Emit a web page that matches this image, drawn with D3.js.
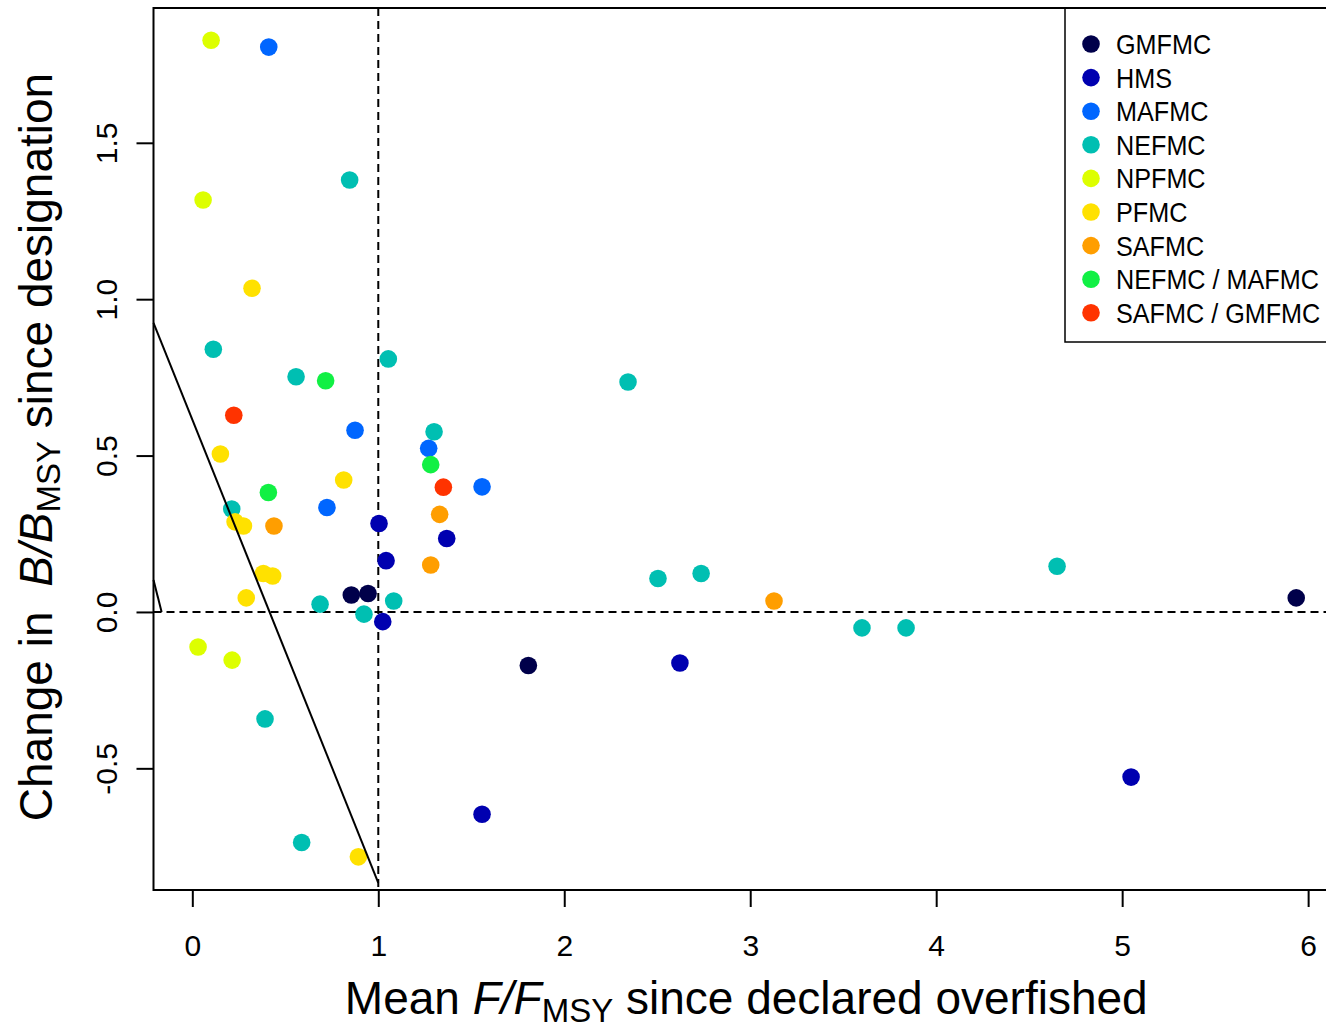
<!DOCTYPE html>
<html>
<head>
<meta charset="utf-8">
<script src="https://cdn.jsdelivr.net/npm/d3@7"></script>
<style>
  body { margin: 0; background: #fff; }
  svg { display: block; font-family: "Liberation Sans", Arial, sans-serif; }
</style>
</head>
<body>
<div id="chart-area"></div>
<script>
// councils, legend order
const councils = ["GMFMC", "HMS", "MAFMC", "NEFMC", "NPFMC", "PFMC", "SAFMC", "NEFMC / MAFMC", "SAFMC / GMFMC"]
const councilColors = ["#00004a", "#0000b0", "#0066ff", "#00bfb2", "#ddff00", "#ffe100", "#ff9e00", "#11f044", "#ff3300"]

// mean F/Fmsy (x) and change in B/Bmsy (y), per council
const fGMFMC = [0.855, 0.945, 1.807, 5.936]
const bGMFMC = [0.054, 0.059, -0.171, 0.045]
const fHMS = [1.004, 1.042, 1.368, 1.024, 1.558, 2.622, 5.048]
const bHMS = [0.283, 0.164, 0.235, -0.031, -0.647, -0.163, -0.528]
const fMAFMC = [0.411, 0.875, 0.724, 1.271, 1.558]
const bMAFMC = [1.806, 0.581, 0.334, 0.523, 0.400]
const fNEFMC = [0.846, 0.113, 0.558, 1.054, 1.300, 0.212, 0.687, 0.923, 1.083, 0.391, 0.588, 2.343, 2.504, 2.736, 3.601, 3.838, 4.650]
const bNEFMC = [1.381, 0.840, 0.752, 0.809, 0.576, 0.329, 0.025, -0.007, 0.035, -0.342, -0.737, 0.735, 0.107, 0.123, -0.051, -0.051, 0.146]
const fNPFMC = [0.101, 0.058, 0.031, 0.214]
const bNPFMC = [1.828, 1.317, -0.112, -0.154]
const fPFMC = [0.321, 0.151, 0.230, 0.275, 0.382, 0.432, 0.814, 0.290, 0.893]
const bPFMC = [1.035, 0.505, 0.288, 0.275, 0.123, 0.115, 0.422, 0.045, -0.783]
const fSAFMC = [0.439, 1.330, 1.282, 3.128]
const bSAFMC = [0.275, 0.312, 0.150, 0.035]
const fNEMA = [0.717, 0.409, 1.282]
const bNEMA = [0.739, 0.382, 0.471]
const fSAGM = [0.223, 1.350]
const bSAGM = [0.629, 0.399]

const fByCouncil = [fGMFMC, fHMS, fMAFMC, fNEFMC, fNPFMC, fPFMC, fSAFMC, fNEMA, fSAGM]
const bByCouncil = [bGMFMC, bHMS, bMAFMC, bNEFMC, bNPFMC, bPFMC, bSAFMC, bNEMA, bSAGM]

// solid reference line and its short tail at the left edge
const lineF = [-0.2087, 1.0]
const lineB = [0.924, -0.866]
const tailF = [-0.2087, -0.165]
const tailB = [0.102, 0.0]

const xTicks = [0, 1, 2, 3, 4, 5, 6]
const yTicks = [-0.5, 0, 0.5, 1, 1.5]

const W = 1326, H = 1028
const PLOT = {LEFT: 153.5, RIGHT: 1339, TOP: 8, BOTTOM: 890}

const svg = d3.select("#chart-area").append("svg")
  .attr("width", W)
  .attr("height", H)

const x = d3.scaleLinear()
  .domain([-0.2087, 6.166])
  .range([PLOT.LEFT, PLOT.RIGHT])

const y = d3.scaleLinear()
  .domain([-0.889, 1.931])
  .range([PLOT.BOTTOM, PLOT.TOP])

// flatten into points
const points = []
councils.forEach((c, i) => {
  fByCouncil[i].forEach((f, j) => {
    points.push({council: c, color: councilColors[i], f: f, b: bByCouncil[i][j]})
  })
})

// dashed reference lines at F/Fmsy = 1 and change = 0
svg.append("line")
  .attr("x1", PLOT.LEFT).attr("x2", PLOT.RIGHT)
  .attr("y1", y(0)).attr("y2", y(0))
  .attr("stroke", "#000").attr("stroke-width", 2)
  .attr("stroke-dasharray", "8,5")

svg.append("line")
  .attr("x1", x(1)).attr("x2", x(1))
  .attr("y1", PLOT.TOP).attr("y2", PLOT.BOTTOM)
  .attr("stroke", "#000").attr("stroke-width", 2)
  .attr("stroke-dasharray", "8,5")

svg.append("g").selectAll("circle")
  .data(points)
  .enter().append("circle")
  .attr("cx", d => x(d.f))
  .attr("cy", d => y(d.b))
  .attr("r", 8.8)
  .attr("fill", d => d.color)

const lineGen = d3.line()
  .x(d => x(d[0]))
  .y(d => y(d[1]))

svg.append("path")
  .attr("d", lineGen(d3.zip(lineF, lineB)))
  .attr("fill", "none").attr("stroke", "#000").attr("stroke-width", 2)

svg.append("path")
  .attr("d", lineGen(d3.zip(tailF, tailB)))
  .attr("fill", "none").attr("stroke", "#000").attr("stroke-width", 2)

// box
svg.append("rect")
  .attr("x", PLOT.LEFT).attr("y", PLOT.TOP)
  .attr("width", PLOT.RIGHT - PLOT.LEFT)
  .attr("height", PLOT.BOTTOM - PLOT.TOP)
  .attr("fill", "none").attr("stroke", "#000").attr("stroke-width", 2)

// x axis
const xAxisGroup = svg.append("g")
  .attr("transform", `translate(0, ${PLOT.BOTTOM})`)
  .call(d3.axisBottom(x).tickValues(xTicks).tickSize(17).tickFormat(d => d))
xAxisGroup.select(".domain").remove()
xAxisGroup.selectAll(".tick line").attr("stroke-width", 2)
xAxisGroup.selectAll(".tick text")
  .attr("y", 66)
  .attr("dy", 0)
  .attr("font-size", "30px")
  .attr("font-family", "Liberation Sans, Arial, sans-serif")
  .attr("fill", "#000")

// y axis
const yAxisGroup = svg.append("g")
  .attr("transform", `translate(${PLOT.LEFT}, 0)`)
  .call(d3.axisLeft(y).tickValues(yTicks).tickSize(17).tickFormat(d => d.toFixed(1)))
yAxisGroup.select(".domain").remove()
yAxisGroup.selectAll(".tick line").attr("stroke-width", 2)
yAxisGroup.selectAll(".tick text")
  .attr("transform", "rotate(-90)")
  .attr("x", 0)
  .attr("y", -37)
  .attr("dy", 0)
  .attr("text-anchor", "middle")
  .attr("font-size", "30px")
  .attr("font-family", "Liberation Sans, Arial, sans-serif")
  .attr("fill", "#000")

// axis titles
const xTitle = svg.append("text")
  .attr("x", (PLOT.LEFT + PLOT.RIGHT) / 2)
  .attr("y", 1014)
  .attr("text-anchor", "middle")
  .attr("font-size", "46px")
xTitle.append("tspan").text("Mean ")
xTitle.append("tspan").attr("font-style", "italic").text("F/F")
xTitle.append("tspan").attr("font-size", "33px").attr("dy", 8).text("MSY")
xTitle.append("tspan").attr("dy", -8).text(" since declared overfished")

const yTitle = svg.append("text")
  .attr("transform", `translate(52, ${(PLOT.TOP + PLOT.BOTTOM) / 2 - 2}) rotate(-90)`)
  .attr("text-anchor", "middle")
  .attr("font-size", "46px")
yTitle.append("tspan").text("Change in ")
yTitle.append("tspan").attr("dx", 12).attr("font-style", "italic").text("B/B")
yTitle.append("tspan").attr("font-size", "33px").attr("dy", 8).text("MSY")
yTitle.append("tspan").attr("dy", -8).text(" since designation")

// legend
const legend = svg.append("g")
svg.append("rect")
  .attr("x", 1065).attr("y", PLOT.TOP)
  .attr("width", PLOT.RIGHT - 1065)
  .attr("height", 334)
  .attr("fill", "none").attr("stroke", "#000").attr("stroke-width", 1.5)

const rows = legend.selectAll("g")
  .data(councils)
  .enter().append("g")
  .attr("transform", (d, i) => `translate(1091, ${44 + i * 33.6})`)

rows.append("circle")
  .attr("r", 8.8)
  .attr("fill", (d, i) => councilColors[i])

// legend labels are a little condensed in the original
rows.append("text")
  .attr("transform", "translate(25, 0) scale(0.9, 1)")
  .attr("dy", "0.36em")
  .attr("font-size", "28px")
  .text(d => d)
</script>
</body>
</html>
